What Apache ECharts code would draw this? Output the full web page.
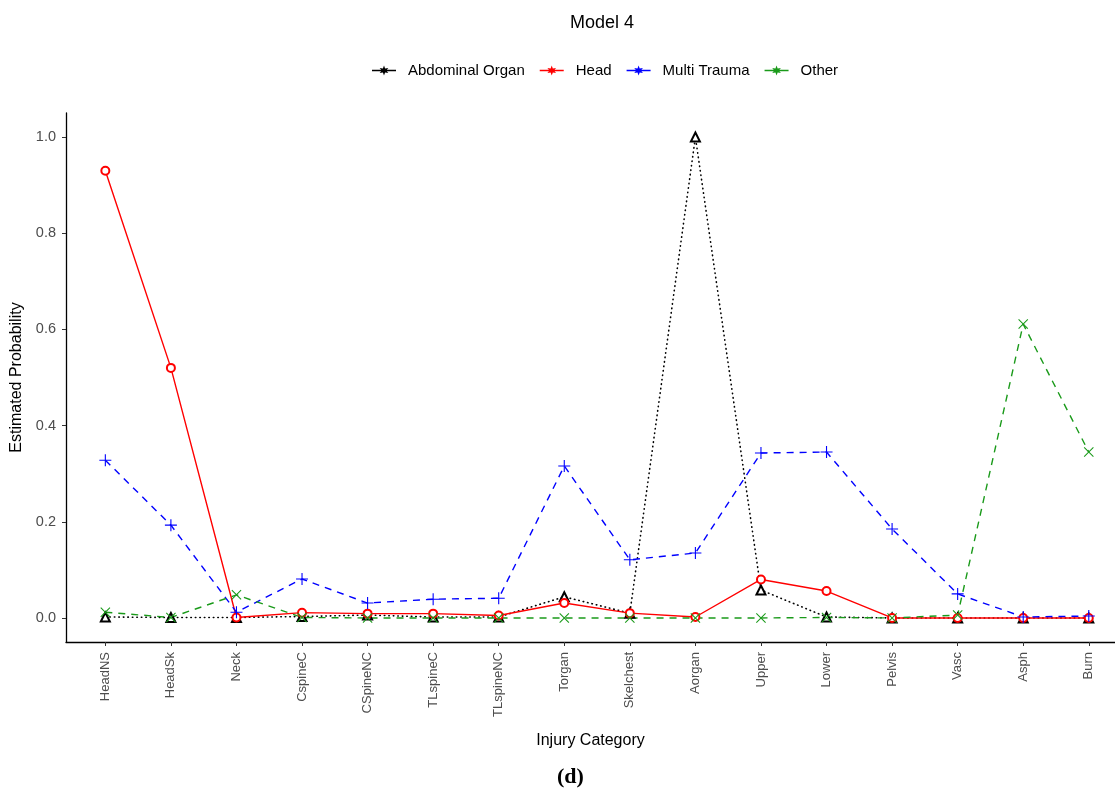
<!DOCTYPE html>
<html>
<head>
<meta charset="utf-8">
<script src="https://cdn.jsdelivr.net/npm/echarts@6/dist/echarts.min.js"></script>
<style>html,body{margin:0;padding:0;background:#fff}#c{width:1115px;height:793px}</style>
</head>
<body>
<div id="c"></div>
<script>
var categories = ['HeadNS','HeadSk','Neck','CspineC','CSpineNC','TLspineC','TLspineNC','Torgan','Skelchest','Aorgan','Upper','Lower','Pelvis','Vasc','Asph','Burn'];
var abdominalOrgan = [0.002,0.001,0.001,0.003,0.006,0.002,0.002,0.044,0.010,1.000,0.058,0.002,0.000,0.000,0.000,0.000];
var head =           [0.930,0.520,0.001,0.011,0.009,0.009,0.005,0.031,0.010,0.002,0.080,0.056,0.000,0.000,0.000,0.000];
var multiTrauma =    [0.328,0.193,0.012,0.081,0.031,0.039,0.041,0.316,0.121,0.135,0.343,0.345,0.185,0.050,0.002,0.004];
var other =          [0.012,0.001,0.048,0.001,0.000,0.000,0.000,0.000,0.000,0.000,0.000,0.001,0.000,0.006,0.611,0.345];
var yTicks = [0,0.2,0.4,0.6,0.8,1.0];

function pairs(arr){ return arr.map(function(v,i){ return [i,v]; }); }
var idx = categories.map(function(c,i){ return i; });

var FONT = 'Liberation Sans, Arial, sans-serif';
var legendIcon = 'path://M0 5.3 H24 V6.7 H0 Z M12 1 L13.1 4.09 L16.33 3.5 L14.2 6 L16.33 8.5 L13.1 7.91 L12 11 L10.9 7.91 L7.67 8.5 L9.8 6 L7.67 3.5 L10.9 4.09 Z';
var plusSym = 'path://M-0.55,-6H0.55V-0.55H6V0.55H0.55V6H-0.55V0.55H-6V-0.55H-0.55Z';
var crossSym = 'path://M-5,-4.25L-4.25,-5L0,-0.75L4.25,-5L5,-4.25L0.75,0L5,4.25L4.25,5L0,0.75L-4.25,5L-5,4.25L-0.75,0Z';

var colors = {ab:'#000000', head:'#ff0000', mt:'#0000ff', oth:'#1a9a1a'};

var chart = echarts.init(document.getElementById('c'), null, {renderer:'canvas'});
chart.setOption({
  animation:false,
  backgroundColor:'#ffffff',
  title:{text:'Model 4', left:597, textAlign:'center', top:9,
    textStyle:{fontFamily:FONT, fontSize:18, fontWeight:'normal', color:'#000'}},
  legend:{
    left:367, top:58, itemWidth:24, itemHeight:12, itemGap:15,
    textStyle:{fontFamily:FONT, fontSize:15, color:'#000', padding:[0,0,0,7]},
    data:[
      {name:'Abdominal Organ', icon:legendIcon, itemStyle:{color:colors.ab, borderWidth:0}},
      {name:'Head', icon:legendIcon, itemStyle:{color:colors.head, borderWidth:0}},
      {name:'Multi Trauma', icon:legendIcon, itemStyle:{color:colors.mt, borderWidth:0}},
      {name:'Other', icon:legendIcon, itemStyle:{color:colors.oth, borderWidth:0}}
    ]
  },
  grid:{left:66, right:0, top:113, bottom:151, containLabel:false},
  xAxis:{
    type:'value', min:-0.6, max:15.4,
    name:'Injury Category', nameLocation:'middle', nameGap:91,
    nameTextStyle:{fontFamily:FONT, fontSize:16, color:'#000'},
    axisLine:{show:true, onZero:false, lineStyle:{color:'#000', width:1.3}},
    axisTick:{show:true, length:4, customValues:idx, lineStyle:{color:'#333', width:1}},
    axisLabel:{customValues:idx, rotate:90, margin:10, fontFamily:FONT, fontSize:13, color:'#4d4d4d',
      formatter:function(v){ return categories[Math.round(v)]; }},
    splitLine:{show:false}
  },
  yAxis:{
    type:'value', min:-0.05, max:1.05,
    name:'Estimated Probability', nameLocation:'middle', nameGap:33,
    nameTextStyle:{fontFamily:FONT, fontSize:16, color:'#000'},
    axisLine:{show:true, onZero:false, lineStyle:{color:'#000', width:1.3}},
    axisTick:{show:true, length:4, customValues:yTicks, lineStyle:{color:'#333', width:1}},
    axisLabel:{customValues:yTicks, margin:10, fontFamily:FONT, fontSize:14.5, color:'#4d4d4d',
      formatter:function(v){ return v.toFixed(1); }},
    splitLine:{show:false}
  },
  graphic:[{type:'text', left:557, top:766,
    style:{text:'(d)', font:'bold 22px "Liberation Serif", "DejaVu Serif", serif', fill:'#000'}}],
  series:[
    {name:'Abdominal Organ', type:'line', data:pairs(abdominalOrgan),
      symbol:'emptyTriangle', symbolSize:9,
      lineStyle:{color:colors.ab, width:1.6, type:[0.5,4], cap:'round'},
      itemStyle:{color:colors.ab, borderColor:colors.ab, borderWidth:0.8}},
    {name:'Head', type:'line', data:pairs(head),
      symbol:'emptyCircle', symbolSize:8,
      lineStyle:{color:colors.head, width:1.4, type:'solid'},
      itemStyle:{color:colors.head, borderColor:colors.head, borderWidth:0.9}},
    {name:'Multi Trauma', type:'line', data:pairs(multiTrauma),
      symbol:plusSym, symbolSize:12,
      lineStyle:{color:colors.mt, width:1.4, type:[7,6]},
      itemStyle:{color:colors.mt, borderWidth:0}},
    {name:'Other', type:'line', data:pairs(other),
      symbol:crossSym, symbolSize:10,
      lineStyle:{color:colors.oth, width:1.4, type:[7,6]},
      itemStyle:{color:colors.oth, borderWidth:0}}
  ]
});
</script>
</body>
</html>
